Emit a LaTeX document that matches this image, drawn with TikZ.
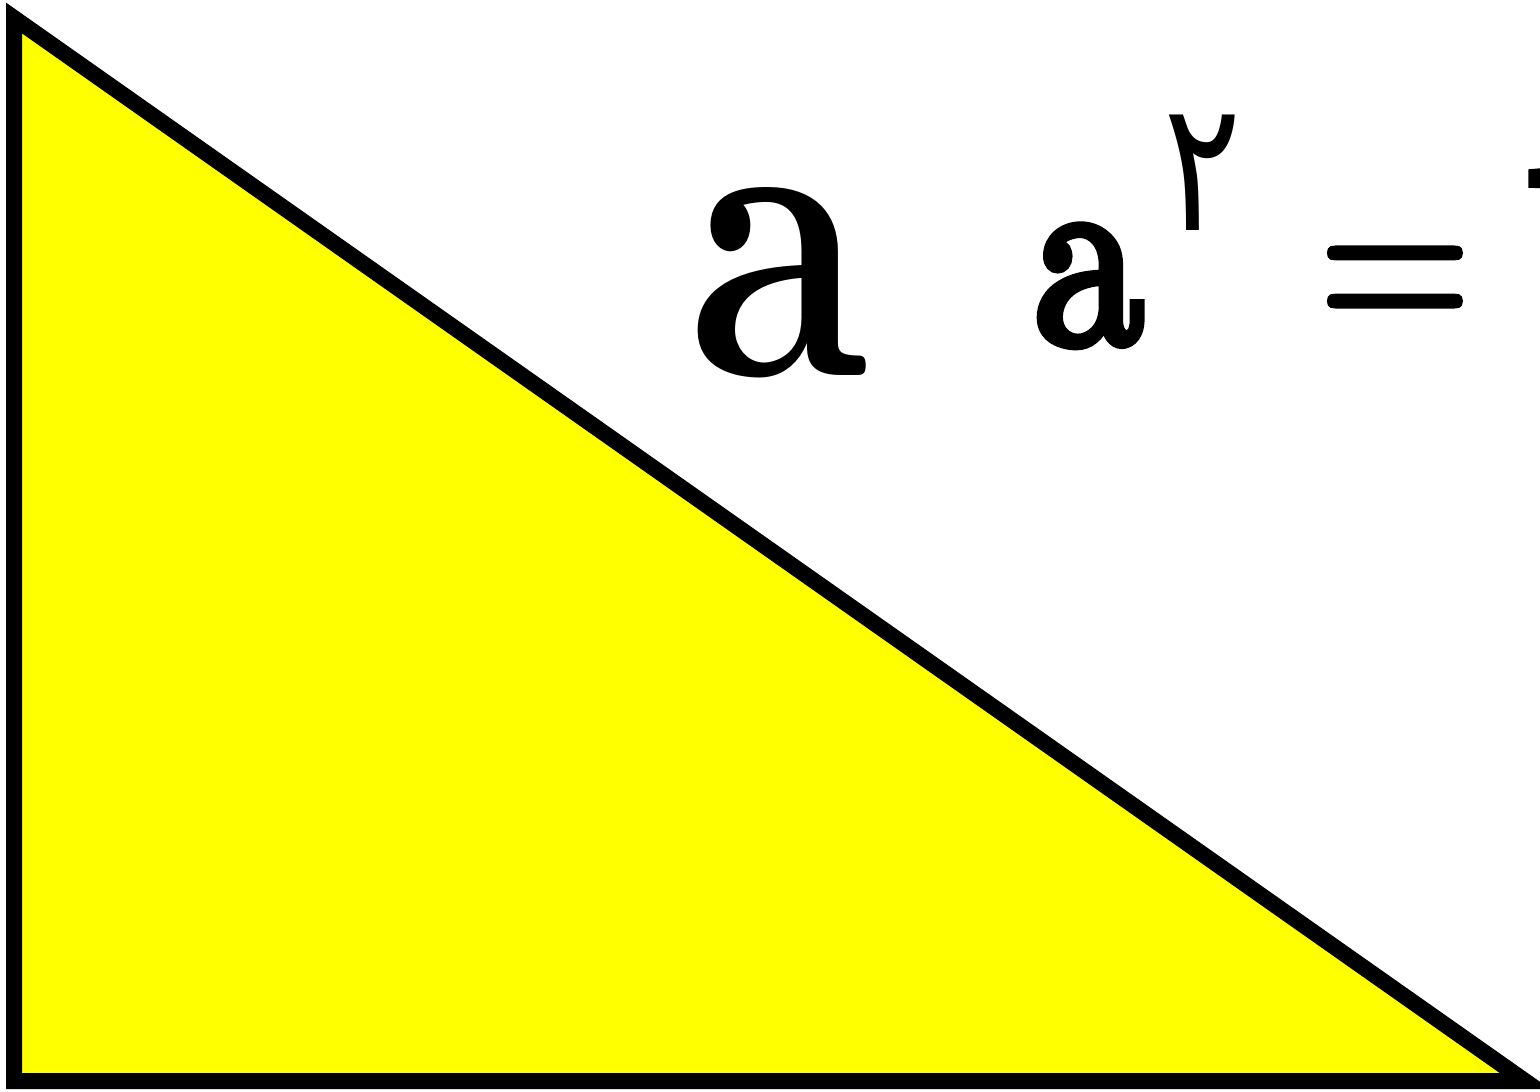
\documentclass[tikz,border=0pt]{standalone}
\usepackage{fontspec}
\newfontfamily\arabicdigits[Script=Arabic]{DejaVu Sans}
\newfontfamily\lmheavyA[FakeBold=4.3]{lmroman10-regular.otf}
\newfontfamily\lmheavyB[FakeBold=2]{lmroman10-regular.otf}
\newfontfamily\lmtenbold{lmroman10-bold.otf}
\definecolor{triyellow}{RGB}{255,255,0}
\begin{document}
\begin{tikzpicture}[x=1pt,y=-1pt,
  tri/.style={draw=black,line width=16pt,miter limit=10,line join=miter,fill=triyellow},
  glyph/.style={inner sep=0pt,outer sep=0pt,anchor=base,text=black}]
\useasboundingbox (0,0) rectangle (1540,1092);
\coordinate (p1) at (14,18);
\coordinate (p2) at (14,1081);
\coordinate (p3) at (1525,1081);
\draw[tri] (p1) -- (p2) -- (p3) -- cycle;
\node[glyph] (bigA) at (779,375) {\scalebox{0.77}[1]{\fontsize{415pt}{415pt}\lmtenbold a}};
\node[glyph] (smallA) at (1089,342) {\scalebox{0.85}[1]{\fontsize{257pt}{257pt}\lmheavyA a}};
\node[glyph] (two) at (1203,230) {\scalebox{0.8}[1]{\fontsize{182pt}{182pt}\arabicdigits ٢}};
\node[glyph] (eq) at (1395,339) {\scalebox{0.8}[1]{\fontsize{248pt}{248pt}\lmheavyB =}};
\node[glyph,anchor=base west] (next) at (1527,350) {\scalebox{0.85}[1]{\fontsize{257pt}{257pt}\lmheavyA b}};
\end{tikzpicture}
\end{document}
